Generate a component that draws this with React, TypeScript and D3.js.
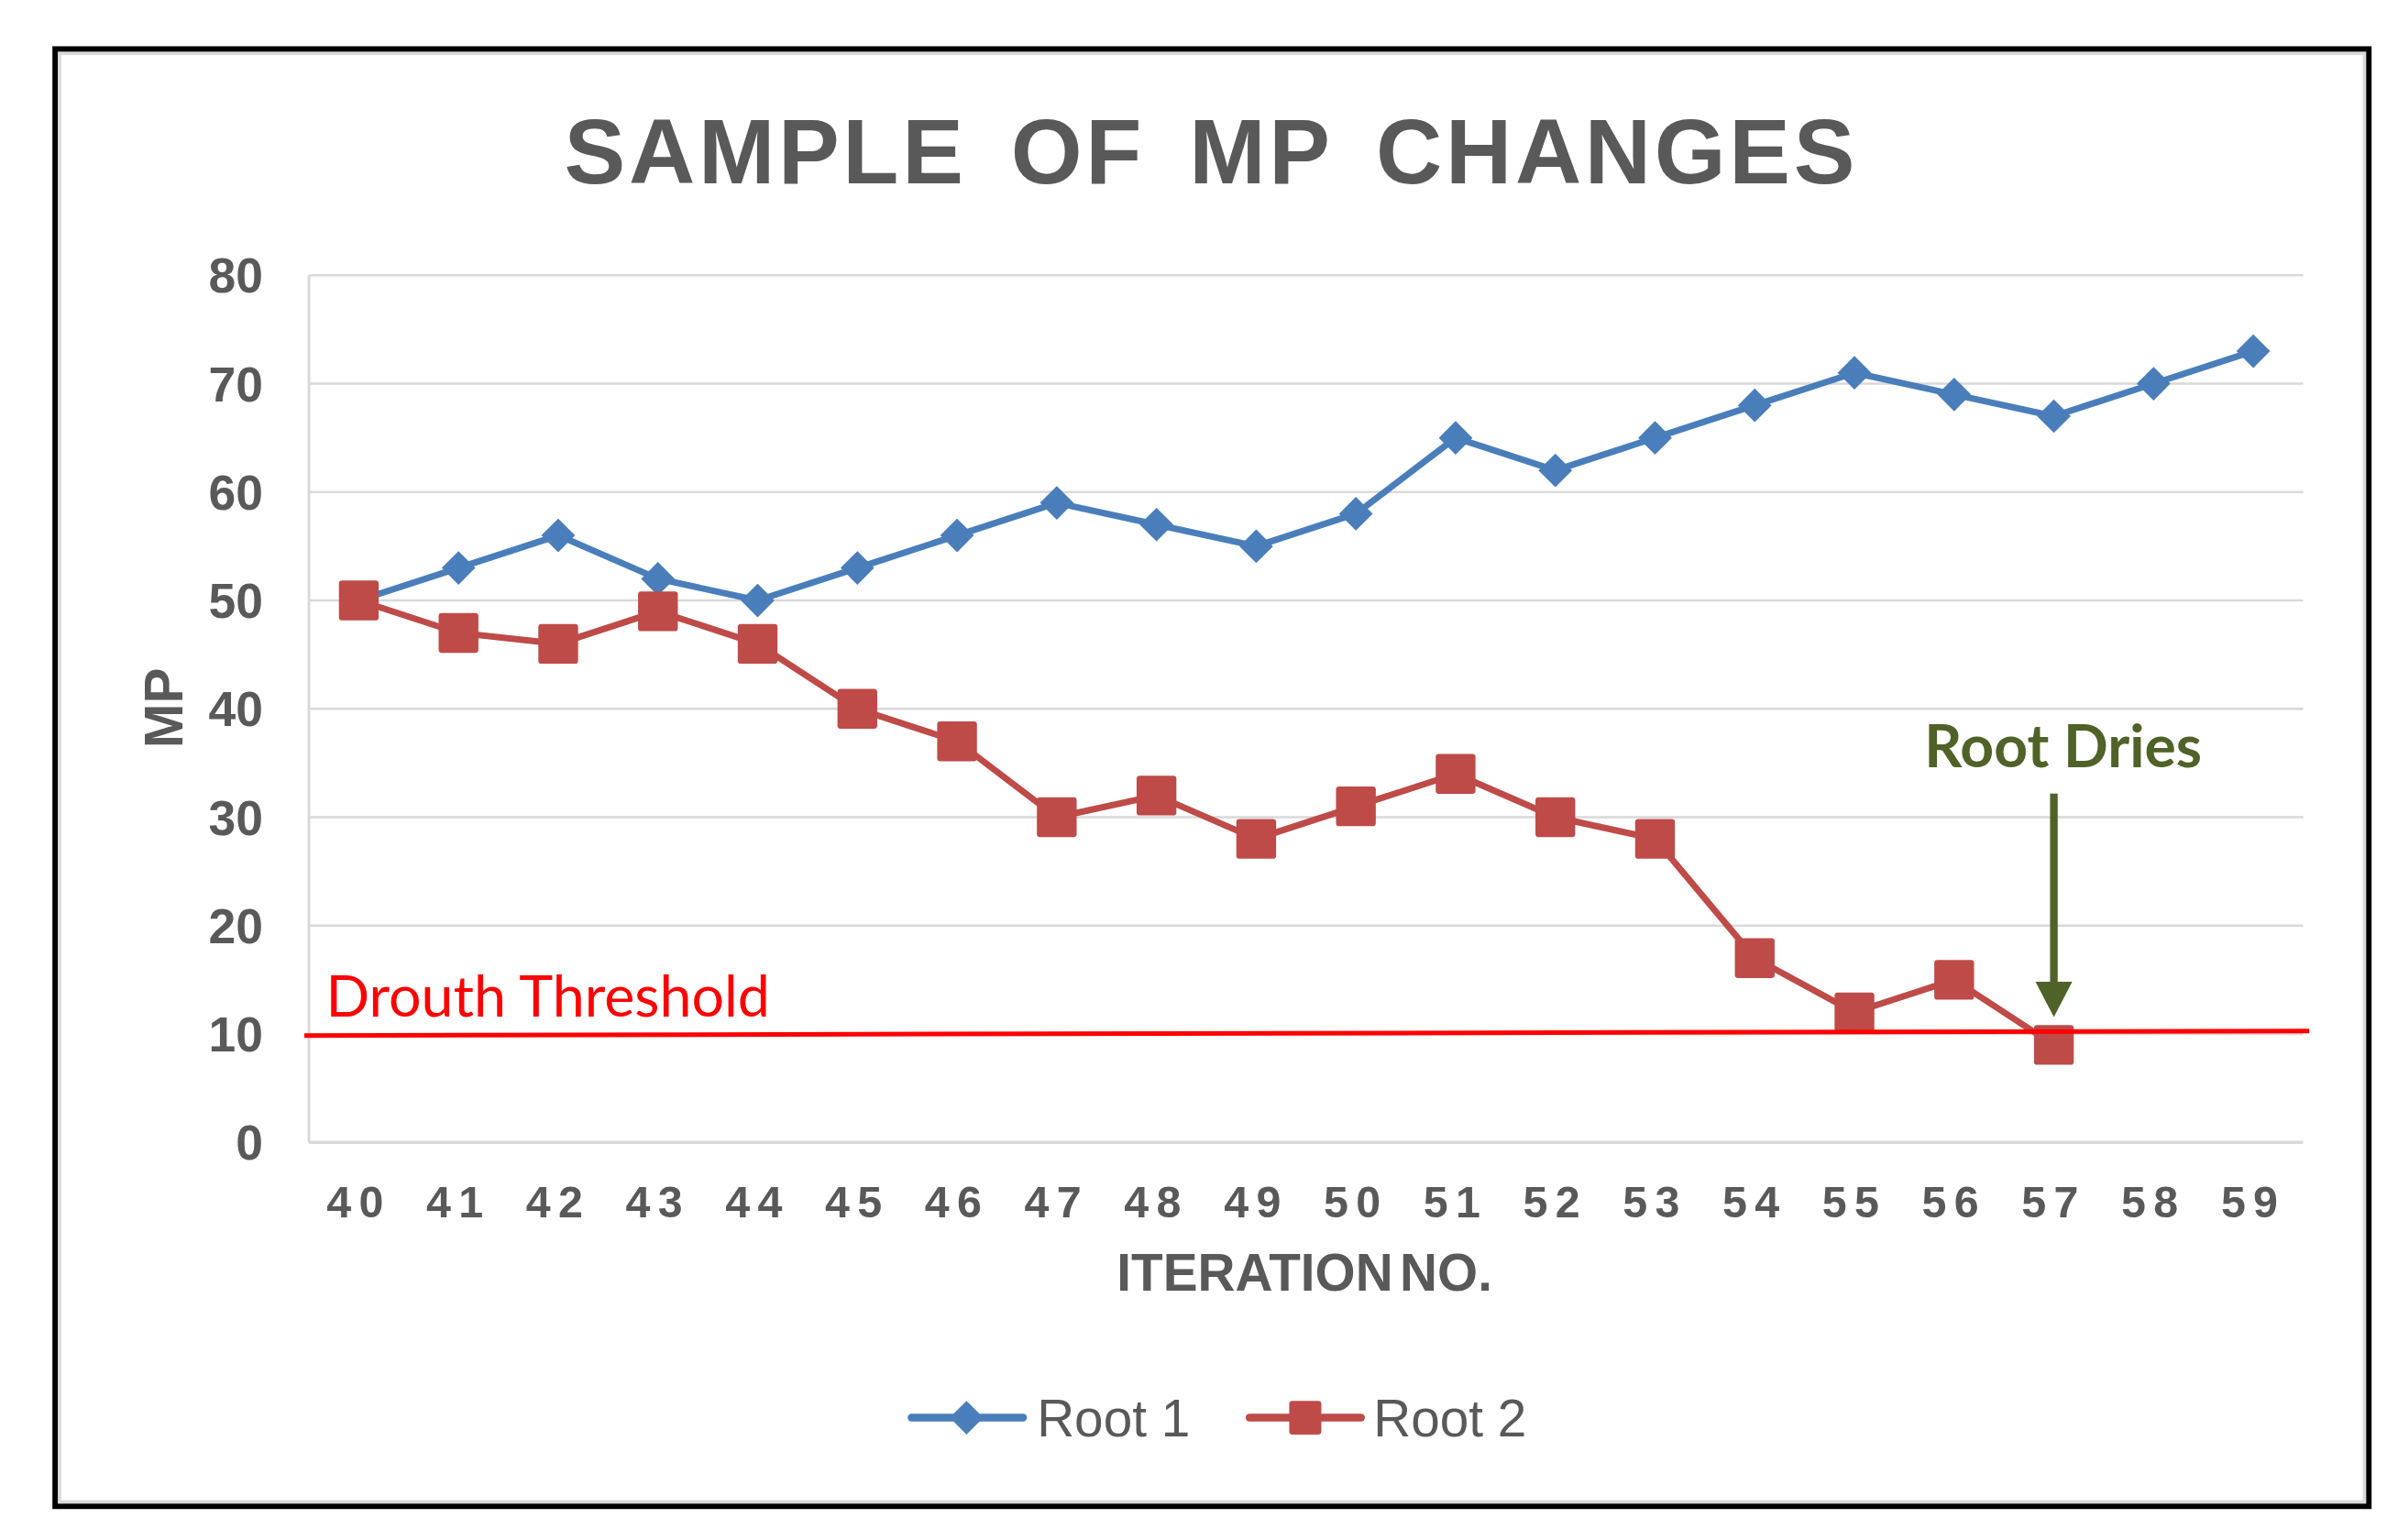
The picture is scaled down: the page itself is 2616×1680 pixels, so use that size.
import React from 'react';
import * as d3 from 'd3';

const iterations = [40, 41, 42, 43, 44, 45, 46, 47, 48, 49, 50, 51, 52, 53, 54, 55, 56, 57, 58, 59];
const root1 = [50, 53, 56, 52, 50, 53, 56, 59, 57, 55, 58, 65, 62, 65, 68, 71, 69, 67, 70, 73];
const root2: (number | null)[] = [50, 47, 46, 49, 46, 40, 37, 30, 32, 28, 31, 34, 30, 28, 17, 12, 15, 9, null, null];
const yTicks = [0, 10, 20, 30, 40, 50, 60, 70, 80];
const threshold = 10;
const dryIteration = 57;
const seriesNames = ['Root 1', 'Root 2'];

const W = 1568;
const H = 1007;
const BLUE = '#4a7ebb';
const RED = '#be4b48';
const GRAY = '#595959';
const GREEN = '#4f6228';
const SANS = '"Liberation Sans", Arial, sans-serif';
const CAL = 'Lato, "Open Sans", sans-serif';

const diamond = (cx: number, cy: number, r: number) =>
  `M${cx},${cy - r}L${cx + r},${cy}L${cx},${cy + r}L${cx - r},${cy}Z`;

export default function App() {
  const x = d3.scaleBand<string>().domain(iterations.map(String)).range([202, 1506]);
  const cx = (i: number) => (x(String(i)) as number) + x.bandwidth() / 2;
  const y = d3.scaleLinear().domain([0, 80]).range([747, 180]);

  const pts1 = iterations.map((it, i) => ({ it, v: root1[i] as number | null }));
  const pts2 = iterations.map((it, i) => ({ it, v: root2[i] }));
  const line = d3
    .line<{ it: number; v: number | null }>()
    .defined((d) => d.v != null)
    .x((d) => cx(d.it))
    .y((d) => y(d.v as number));

  const ty = y(threshold);
  const ax = cx(dryIteration);

  return (
    <svg
      width={2616}
      height={1680}
      viewBox={`0 0 ${W} ${H}`}
      style={{ position: 'fixed', left: 0, top: 0, background: '#fff' }}
    >
      <rect x={0} y={0} width={W} height={H} fill="#fff" />
      {/* frame */}
      <rect x={38.5} y={34.5} width={1508} height={948} fill="none" stroke="#d9d9d9" strokeWidth={3} />
      <rect x={36} y={32} width={1513} height={953} fill="none" stroke="#000" strokeWidth={3.5} />

      {/* title */}
      <text
        x={792}
        y={120}
        textAnchor="middle"
        fontFamily={SANS}
        fontWeight="bold"
        fontSize={60}
        letterSpacing={2.2}
        wordSpacing={10}
        fill={GRAY}
      >
        SAMPLE OF MP CHANGES
      </text>

      {/* gridlines */}
      {yTicks.map((t) => (
        <line key={t} x1={202} x2={1506} y1={y(t)} y2={y(t)} stroke="#d9d9d9" strokeWidth={t === 0 ? 2.2 : 1.5} />
      ))}
      <line x1={202} x2={202} y1={y(80)} y2={y(0)} stroke="#d9d9d9" strokeWidth={1.8} />

      {/* y tick labels */}
      {yTicks.map((t) => (
        <text
          key={t}
          x={172}
          y={y(t) + 11.5}
          textAnchor="end"
          fontFamily={SANS}
          fontWeight="bold"
          fontSize={32}
          fill={GRAY}
        >
          {t}
        </text>
      ))}

      {/* y axis title */}
      <text
        transform={`translate(119,${463}) rotate(-90)`}
        textAnchor="middle"
        fontFamily={SANS}
        fontWeight="bold"
        fontSize={35}
        fill={GRAY}
      >
        MP
      </text>

      {/* x tick labels */}
      {iterations.map((it) => (
        <text
          key={it}
          x={cx(it)}
          y={796}
          textAnchor="middle"
          fontFamily={SANS}
          fontWeight="bold"
          fontSize={29}
          letterSpacing={5}
          fill={GRAY}
        >
          {it}
        </text>
      ))}

      {/* x axis title */}
      <text x={853} y={844} textAnchor="middle" fontFamily={SANS} fontWeight="bold" fontSize={34} wordSpacing={-5} fill={GRAY}>
        ITERATION NO.
      </text>

      {/* Root 1 */}
      <path d={line(pts1) || ''} fill="none" stroke={BLUE} strokeWidth={4.2} strokeLinejoin="round" />
      {pts1.map((d) => (
        <path key={d.it} d={diamond(cx(d.it), y(d.v as number), 11)} fill={BLUE} />
      ))}

      {/* Root 2 */}
      <path d={line(pts2) || ''} fill="none" stroke={RED} strokeWidth={4.2} strokeLinejoin="round" />
      {pts2
        .filter((d) => d.v != null)
        .map((d) => (
          <rect
            key={d.it}
            x={cx(d.it) - 13}
            y={y(d.v as number) - 13}
            width={26}
            height={26}
            rx={2}
            fill={RED}
          />
        ))}

      {/* threshold */}
      <line x1={199} x2={1510} y1={ty + 1} y2={ty - 2} stroke="#ff0000" strokeWidth={3} />
      <text x={213} y={665} fontFamily={CAL} fontSize={37.6} fill="#ff0000">
        Drouth Threshold
      </text>

      {/* root dries annotation */}
      <text x={1349} y={502} textAnchor="middle" fontFamily={CAL} fontWeight="bold" fontSize={38.5} fill={GREEN}>
        Root Dries
      </text>
      <line x1={ax} x2={ax} y1={519} y2={645} stroke={GREEN} strokeWidth={5} />
      <path d={`M${ax - 12},${642}L${ax + 12},${642}L${ax},${665}Z`} fill={GREEN} />

      {/* legend */}
      <line x1={596} x2={669} y1={927} y2={927} stroke={BLUE} strokeWidth={5} strokeLinecap="round" />
      <path d={diamond(632, 927, 11)} fill={BLUE} />
      <text x={678} y={939} fontFamily={SANS} fontSize={34} fill={GRAY}>
        {seriesNames[0]}
      </text>
      <line x1={817} x2={890} y1={927} y2={927} stroke={RED} strokeWidth={5} strokeLinecap="round" />
      <rect x={843} y={916} width={21} height={22} rx={2} fill={RED} />
      <text x={898} y={939} fontFamily={SANS} fontSize={34} fill={GRAY}>
        {seriesNames[1]}
      </text>
    </svg>
  );
}
